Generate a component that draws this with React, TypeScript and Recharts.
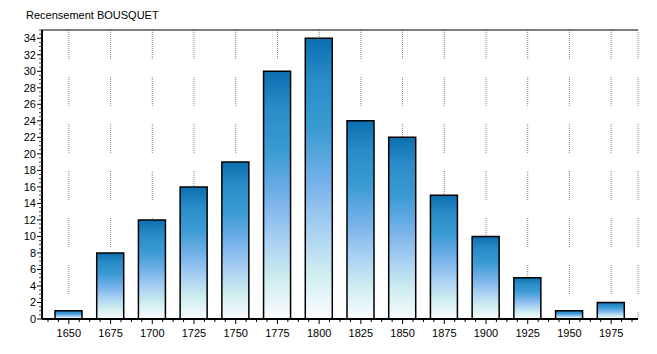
import { Bar, BarChart, CartesianGrid, ReferenceLine, XAxis, YAxis } from "recharts";

const years = ["1650", "1675", "1700", "1725", "1750", "1775", "1800", "1825", "1850", "1875", "1900", "1925", "1950", "1975"];
const population = [1, 8, 12, 16, 19, 30, 34, 24, 22, 15, 10, 5, 1, 2];
const yLabels = [0, 2, 4, 6, 8, 10, 12, 14, 16, 18, 20, 22, 24, 26, 28, 30, 32, 34];

const data = years.map((year, i) => ({ year, value: population[i] }));
// half-unit tick marks along the y axis, labels only on the even values
const yTicks = Array.from({ length: 71 }, (_, i) => i / 2);

const W = 657;
const H = 354;
const margin = { top: 30, right: 19, left: 12, bottom: 10 };
const padX = 6;
const band = (W - margin.left - 30 - margin.right - 2 * padX) / years.length;
const font = "'Liberation Sans', Arial, sans-serif";

// dotted vertical guides, broken in segments like the original
const dots = Array(14).fill("1 1").join(" ");
const gridDash = `${dots} 1 18`;

function XTick({ x, y, payload, index }: any) {
  const offs = [-band / 2, -band / 4, 0, band / 4];
  if (index === years.length - 1) offs.push(band / 2);
  return (
    <g>
      {offs.map((o) => (
        <line key={o} x1={x + o} x2={x + o} y1={y} y2={y + (o === 0 ? 5 : 3)} stroke="#000" />
      ))}
      <text x={x} y={y + 18} textAnchor="middle" fontSize={11} fontFamily={font} fill="#000">
        {payload.value}
      </text>
    </g>
  );
}

function YTick({ x, y, payload }: any) {
  const v = payload.value;
  const major = v % 2 === 0;
  return (
    <g>
      <line x1={x - (major ? 5 : 3)} x2={x} y1={y} y2={y} stroke={major ? "#000" : "#444"} />
      {major && yLabels.includes(v) && (
        <text x={x - 6} y={y + 4} textAnchor="end" fontSize={11} fontFamily={font} fill="#000">
          {v}
        </text>
      )}
    </g>
  );
}

export default function App() {
  return (
    <div style={{ position: "absolute", left: 0, top: 0, width: W, height: H, background: "#fff" }}>
      <div style={{ position: "absolute", left: 26, top: 9, fontSize: 11, fontFamily: font, color: "#000" }}>
        Recensement BOUSQUET
      </div>
      <BarChart width={W} height={H} data={data} margin={margin} barCategoryGap={0}>
        <defs>
          <linearGradient id="barFill" x1="0" y1="0" x2="0" y2="1">
            <stop offset="0%" stopColor="#0b6fb0" />
            <stop offset="15%" stopColor="#2a8cc8" />
            <stop offset="32%" stopColor="#3a9ad2" />
            <stop offset="52%" stopColor="#78b2ea" />
            <stop offset="68%" stopColor="#a8d0f2" />
            <stop offset="84%" stopColor="#cfeef0" />
            <stop offset="100%" stopColor="#fbfbff" />
          </linearGradient>
        </defs>
        <CartesianGrid horizontal={false} stroke="#888" strokeDasharray={gridDash} />
        <XAxis
          dataKey="year"
          padding={{ left: padX, right: padX }}
          height={25}
          tickLine={false}
          tickSize={0}
          tickMargin={0}
          tick={<XTick />}
          interval={0}
          axisLine={{ stroke: "#000", strokeWidth: 2 }}
        />
        <YAxis
          domain={[0, 35]}
          ticks={yTicks}
          interval={0}
          width={30}
          tickLine={false}
          tickSize={0}
          tickMargin={0}
          tick={<YTick />}
          axisLine={{ stroke: "#000", strokeWidth: 2 }}
        />
        <YAxis yAxisId="right" orientation="right" width={0} domain={[0, 35]} tick={false} tickLine={false} axisLine={{ stroke: "#000", strokeWidth: 1 }} />
        <ReferenceLine y={35} stroke="#000" strokeWidth={1} />
        <Bar dataKey="value" barSize={27} fill="url(#barFill)" stroke="#000" strokeWidth={1.5} isAnimationActive={false} />
      </BarChart>
    </div>
  );
}
